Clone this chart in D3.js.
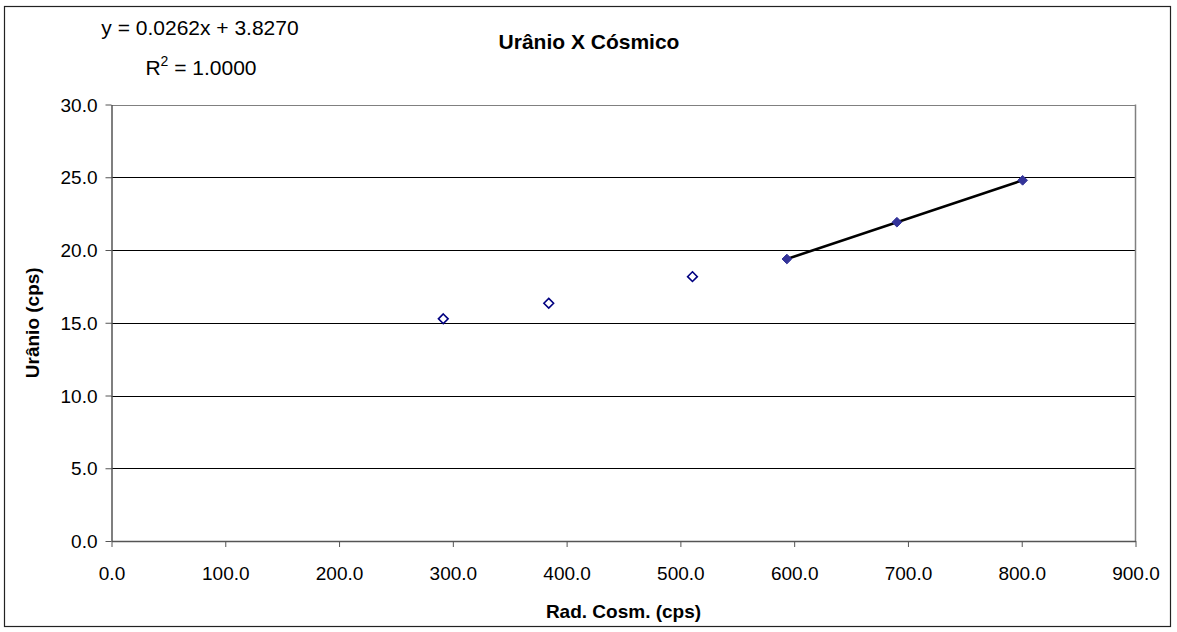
<!DOCTYPE html>
<html>
<head>
<meta charset="utf-8">
<script src="https://cdn.jsdelivr.net/npm/d3@7"></script>
<style>
  body { margin: 0; background: #fff; }
  text { font-family: Arial, "Liberation Sans", sans-serif; fill: #000; }
</style>
</head>
<body>
<svg id="chart"></svg>
<script>
// Urânio X Cósmico

// series without trendline (hollow markers)
var cosmA = [291.6, 384.3, 510.6];
var uranA = [15.27, 16.34, 18.17];
// series with linear trendline (filled markers)
var cosmB = [593.6, 690.3, 800.8];
var uranB = [19.38, 21.91, 24.79];

var xTicks = [0, 100, 200, 300, 400, 500, 600, 700, 800, 900];
var yTicks = [0, 5, 10, 15, 20, 25, 30];

// trendline label as printed on the chart
var eqSlope = '0.0262', eqIntercept = '3.8270', eqR2 = '1.0000';

var svgWidth = 1177, svgHeight = 632;
var padL = 111.5, padR = 1135.5, padT = 104.5, padB = 541;

var svg = d3.select('#chart')
    .attr('width', svgWidth)
    .attr('height', svgHeight);

// outer chart border
svg.append('rect')
    .attr('x', 4.5).attr('y', 6.5)
    .attr('width', 1166).attr('height', 620)
    .attr('fill', 'none')
    .attr('stroke', '#222')
    .attr('stroke-width', 1.2);

var x = d3.scaleLinear().domain([0, 900]).range([padL, padR]);
var y = d3.scaleLinear().domain([0, 30]).range([padB, padT]);

// gridlines
svg.append('g')
    .selectAll('line')
    .data(yTicks.filter(function(d) { return d > 0; }))
    .enter()
    .append('line')
    .attr('x1', padL).attr('x2', padR)
    .attr('y1', function(d) { return Math.round(y(d)) + 0.5; })
    .attr('y2', function(d) { return Math.round(y(d)) + 0.5; })
    .attr('stroke', function(d) { return d == 30 ? '#808080' : '#000'; })
    .attr('stroke-width', 1);

// plot area right border
svg.append('line')
    .attr('x1', padR).attr('x2', padR)
    .attr('y1', padT).attr('y2', padB)
    .attr('stroke', '#808080').attr('stroke-width', 1.5);

// axes
var xAxis = svg.append('g')
    .attr('transform', 'translate(0,' + padB + ')')
    .call(d3.axisBottom(x).tickValues(xTicks).tickSize(6).tickSizeOuter(0)
        .tickFormat(d3.format('.1f')));
var yAxis = svg.append('g')
    .attr('transform', 'translate(' + padL + ',0)')
    .call(d3.axisLeft(y).tickValues(yTicks).tickSize(6).tickSizeOuter(0)
        .tickFormat(d3.format('.1f')));

[xAxis, yAxis].forEach(function(a) {
    a.select('.domain').attr('stroke', '#555').attr('stroke-width', 1.5);
    a.selectAll('.tick line').attr('stroke', '#555');
    a.selectAll('.tick text')
        .attr('font-family', 'Arial, "Liberation Sans", sans-serif')
        .attr('font-size', 19)
        .attr('fill', '#000');
});
xAxis.selectAll('.tick text').attr('dy', null).attr('y', 39);
yAxis.selectAll('.tick text').attr('x', -14).attr('dy', '0.35em');

// trendline (least squares on series B)
var mx = d3.mean(cosmB), my = d3.mean(uranB);
var slope = d3.sum(cosmB, function(d, i) { return (d - mx) * (uranB[i] - my); }) /
            d3.sum(cosmB, function(d) { return (d - mx) * (d - mx); });
var icpt = my - slope * mx;
var xMin = d3.min(cosmB), xMax = d3.max(cosmB);
svg.append('line')
    .attr('x1', x(xMin)).attr('y1', y(slope * xMin + icpt))
    .attr('x2', x(xMax)).attr('y2', y(slope * xMax + icpt))
    .attr('stroke', '#000')
    .attr('stroke-width', 2.6);

var diamond = d3.symbol().type(d3.symbolDiamond2).size(60);

svg.append('g')
    .selectAll('path')
    .data(cosmA)
    .enter()
    .append('path')
    .attr('d', diamond)
    .attr('transform', function(d, i) { return 'translate(' + x(d) + ',' + y(uranA[i]) + ')'; })
    .attr('fill', '#fff')
    .attr('stroke', '#000080')
    .attr('stroke-width', 1.6);

svg.append('g')
    .selectAll('path')
    .data(cosmB)
    .enter()
    .append('path')
    .attr('d', diamond)
    .attr('transform', function(d, i) { return 'translate(' + x(d) + ',' + y(uranB[i]) + ')'; })
    .attr('fill', '#333399')
    .attr('stroke', '#333399')
    .attr('stroke-width', 1);

// titles
svg.append('text')
    .attr('x', 589).attr('y', 49)
    .attr('text-anchor', 'middle')
    .attr('font-size', 21).attr('font-weight', 'bold')
    .text('Urânio X Cósmico');

svg.append('text')
    .attr('x', (padL + padR) / 2).attr('y', 618)
    .attr('text-anchor', 'middle')
    .attr('font-size', 19).attr('font-weight', 'bold')
    .text('Rad. Cosm. (cps)');

svg.append('text')
    .attr('transform', 'translate(39,' + (padT + padB) / 2 + ') rotate(-90)')
    .attr('text-anchor', 'middle')
    .attr('font-size', 19).attr('font-weight', 'bold')
    .text('Urânio (cps)');

// trendline equation
svg.append('text')
    .attr('x', 200).attr('y', 35)
    .attr('text-anchor', 'middle')
    .attr('font-size', 21)
    .text('y = ' + eqSlope + 'x + ' + eqIntercept);

var r2 = svg.append('text')
    .attr('x', 201).attr('y', 75)
    .attr('text-anchor', 'middle')
    .attr('font-size', 21);
r2.append('tspan').text('R');
r2.append('tspan').attr('dy', -9).attr('font-size', 14).text('2');
r2.append('tspan').attr('dy', 9).text(' = ' + eqR2);
</script>
</body>
</html>
